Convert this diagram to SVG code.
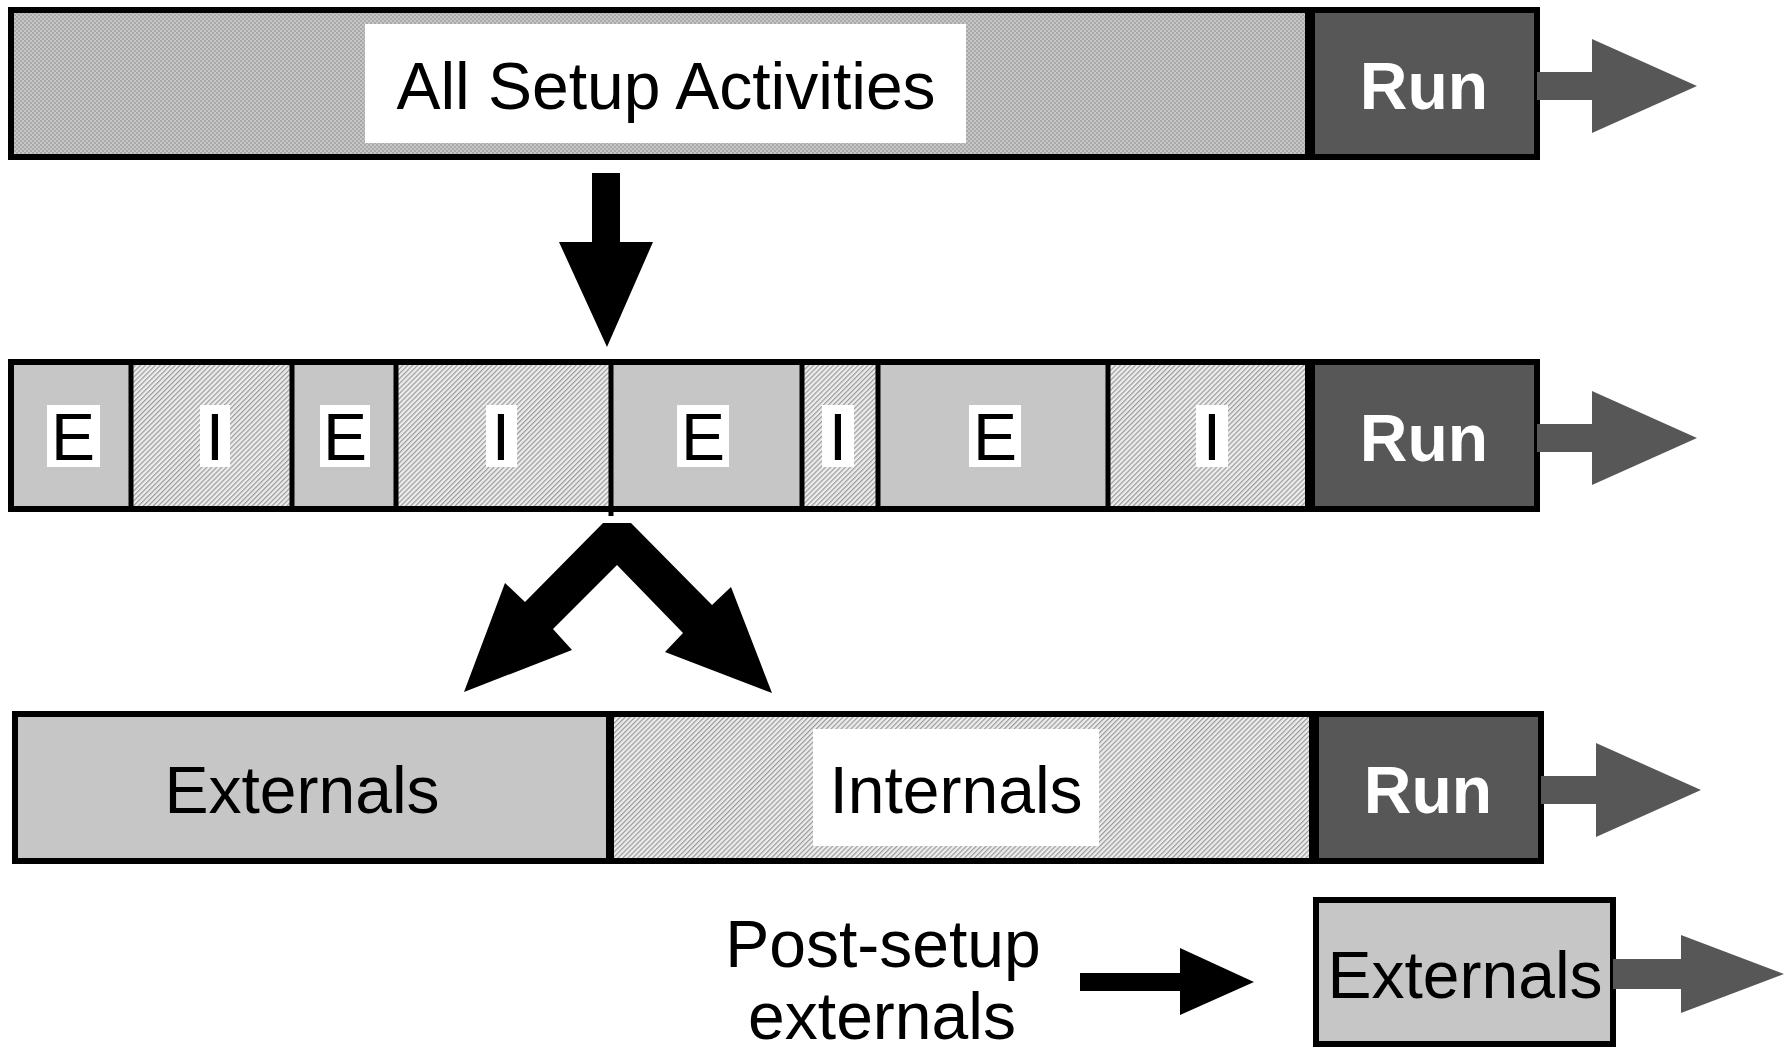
<svg xmlns="http://www.w3.org/2000/svg" width="1787" height="1048" viewBox="0 0 1787 1048">
  <defs>
    <!-- fine stipple for the undivided setup block -->
    <pattern id="stipple" width="4" height="4" patternUnits="userSpaceOnUse">
      <rect width="4" height="4" fill="#c6c6c6"/>
      <rect width="2" height="2" fill="#a9a9a9"/>
      <rect x="2" y="2" width="2" height="2" fill="#a9a9a9"/>
    </pattern>
    <!-- diagonal hatch for internal activities -->
    <pattern id="hatch" width="3.5" height="3.5" patternUnits="userSpaceOnUse" patternTransform="rotate(45)">
      <rect width="3.5" height="3.5" fill="#ededed"/>
      <rect width="1.2" height="3.5" fill="#9a9a9a"/>
    </pattern>
    <style>
      .ext { fill: #c6c6c6; }
      .int { fill: url(#hatch); }
      .run { fill: #575757; }
      .frame { fill: none; stroke: #000; stroke-width: 6; }
      .sep { stroke: #000; stroke-width: 5; }
      .sep-thick { stroke: #000; stroke-width: 10; }
      .lbl { font-family: "Liberation Sans", Arial, sans-serif; font-size: 66px; fill: #000; text-anchor: middle; }
      .runlbl { font-family: "Liberation Sans", Arial, sans-serif; font-size: 66px; font-weight: bold; fill: #fff; text-anchor: middle; }
      .tag { fill: #fff; }
      .flow { fill: #000; }
      .out { fill: #575757; }
    </style>
  </defs>

  <!-- Row 1: all setup activities before the run -->
  <g id="row-setup">
    <rect x="8" y="7" width="1302" height="153" fill="url(#stipple)"/>
    <rect class="run" x="1310" y="7" width="230" height="153"/>
    <rect class="tag" x="365" y="24" width="601" height="119"/>
    <text class="lbl" x="666" y="109">All Setup Activities</text>
    <line class="sep-thick" x1="1310" y1="7" x2="1310" y2="160"/>
    <rect class="frame" x="11" y="10" width="1526" height="147"/>
    <text class="runlbl" x="1424" y="109">Run</text>
  </g>

  <!-- Row 2: setup split into external (E) and internal (I) activities -->
  <g id="row-split">
    <rect class="ext" x="8" y="359" width="123" height="153"/>
    <rect class="int" x="131" y="359" width="161" height="153"/>
    <rect class="ext" x="292" y="359" width="104" height="153"/>
    <rect class="int" x="396" y="359" width="215" height="153"/>
    <rect class="ext" x="611" y="359" width="191" height="153"/>
    <rect class="int" x="802" y="359" width="76" height="153"/>
    <rect class="ext" x="878" y="359" width="230" height="153"/>
    <rect class="int" x="1108" y="359" width="202" height="153"/>
    <rect class="run" x="1310" y="359" width="230" height="153"/>
    <line class="sep" x1="131" y1="359" x2="131" y2="512"/>
    <line class="sep" x1="292" y1="359" x2="292" y2="512"/>
    <line class="sep" x1="396" y1="359" x2="396" y2="512"/>
    <line class="sep" x1="611" y1="359" x2="611" y2="516"/>
    <line class="sep" x1="802" y1="359" x2="802" y2="512"/>
    <line class="sep" x1="878" y1="359" x2="878" y2="512"/>
    <line class="sep" x1="1108" y1="359" x2="1108" y2="512"/>
    <line class="sep-thick" x1="1310" y1="359" x2="1310" y2="512"/>
    <rect class="frame" x="11" y="362" width="1526" height="147"/>
    <g id="tags">
      <rect class="tag" x="47" y="405" width="53" height="62"/>
      <text class="lbl" x="73" y="460">E</text>
      <rect class="tag" x="200" y="405" width="30" height="62"/>
      <text class="lbl" x="215" y="460">I</text>
      <rect class="tag" x="320" y="405" width="50" height="62"/>
      <text class="lbl" x="345" y="460">E</text>
      <rect class="tag" x="486" y="405" width="31" height="62"/>
      <text class="lbl" x="501" y="460">I</text>
      <rect class="tag" x="677" y="405" width="52" height="62"/>
      <text class="lbl" x="703" y="460">E</text>
      <rect class="tag" x="822" y="405" width="32" height="62"/>
      <text class="lbl" x="838" y="460">I</text>
      <rect class="tag" x="969" y="405" width="52" height="62"/>
      <text class="lbl" x="995" y="460">E</text>
      <rect class="tag" x="1196" y="405" width="32" height="62"/>
      <text class="lbl" x="1212" y="460">I</text>
    </g>
    <text class="runlbl" x="1424" y="461">Run</text>
  </g>

  <!-- Row 3: externals grouped ahead of internals -->
  <g id="row-grouped">
    <rect class="ext" x="12" y="711" width="598" height="153"/>
    <rect class="int" x="610" y="711" width="704" height="153"/>
    <rect class="run" x="1314" y="711" width="230" height="153"/>
    <rect class="tag" x="813" y="729" width="286" height="117"/>
    <line class="sep" x1="610" y1="711" x2="610" y2="864" style="stroke-width:8"/>
    <line class="sep-thick" x1="1314" y1="711" x2="1314" y2="864"/>
    <rect class="frame" x="15" y="714" width="1526" height="147"/>
    <text class="lbl" x="302" y="813">Externals</text>
    <text class="lbl" x="956" y="813">Internals</text>
    <text class="runlbl" x="1428" y="813">Run</text>
  </g>

  <!-- Row 4: externals moved after the run starts -->
  <g id="post-setup-label">
    <text class="lbl" x="883" y="967">Post-setup</text>
    <text class="lbl" x="882" y="1039">externals</text>
  </g>
  <g id="post-externals">
    <rect class="ext" x="1316" y="900" width="297" height="144"/>
    <rect class="frame" x="1316" y="900" width="297" height="144"/>
    <text class="lbl" x="1465" y="998">Externals</text>
  </g>

  <g id="connectors">
    <!-- run continues -->
    <polygon class="out" points="1537,72 1592,72 1592,39 1697,86 1592,133 1592,100 1537,100"/>
    <polygon class="out" points="1537,424 1592,424 1592,391 1697,438 1592,485 1592,452 1537,452"/>
    <polygon class="out" points="1541,776 1596,776 1596,743 1701,790 1596,837 1596,804 1541,804"/>
    <polygon class="out" points="1613,959 1681,959 1681,935 1784,974 1681,1013 1681,989 1613,989"/>
    <!-- setup to split -->
    <polygon class="flow" points="592,173 620,173 620,242 653,242 607,347 559,242 592,242"/>
    <!-- split into externals and internals -->
    <polygon class="flow" points="603,523 525,602 505,583 464,692 572,650 553,629 617,565 683,633 665,652 772,693 731,587 712,605 631,523"/>
    <!-- post-setup externals -->
    <polygon class="flow" points="1080,973 1180,973 1180,948 1254,982 1180,1015 1180,991 1080,991"/>
  </g>
</svg>
